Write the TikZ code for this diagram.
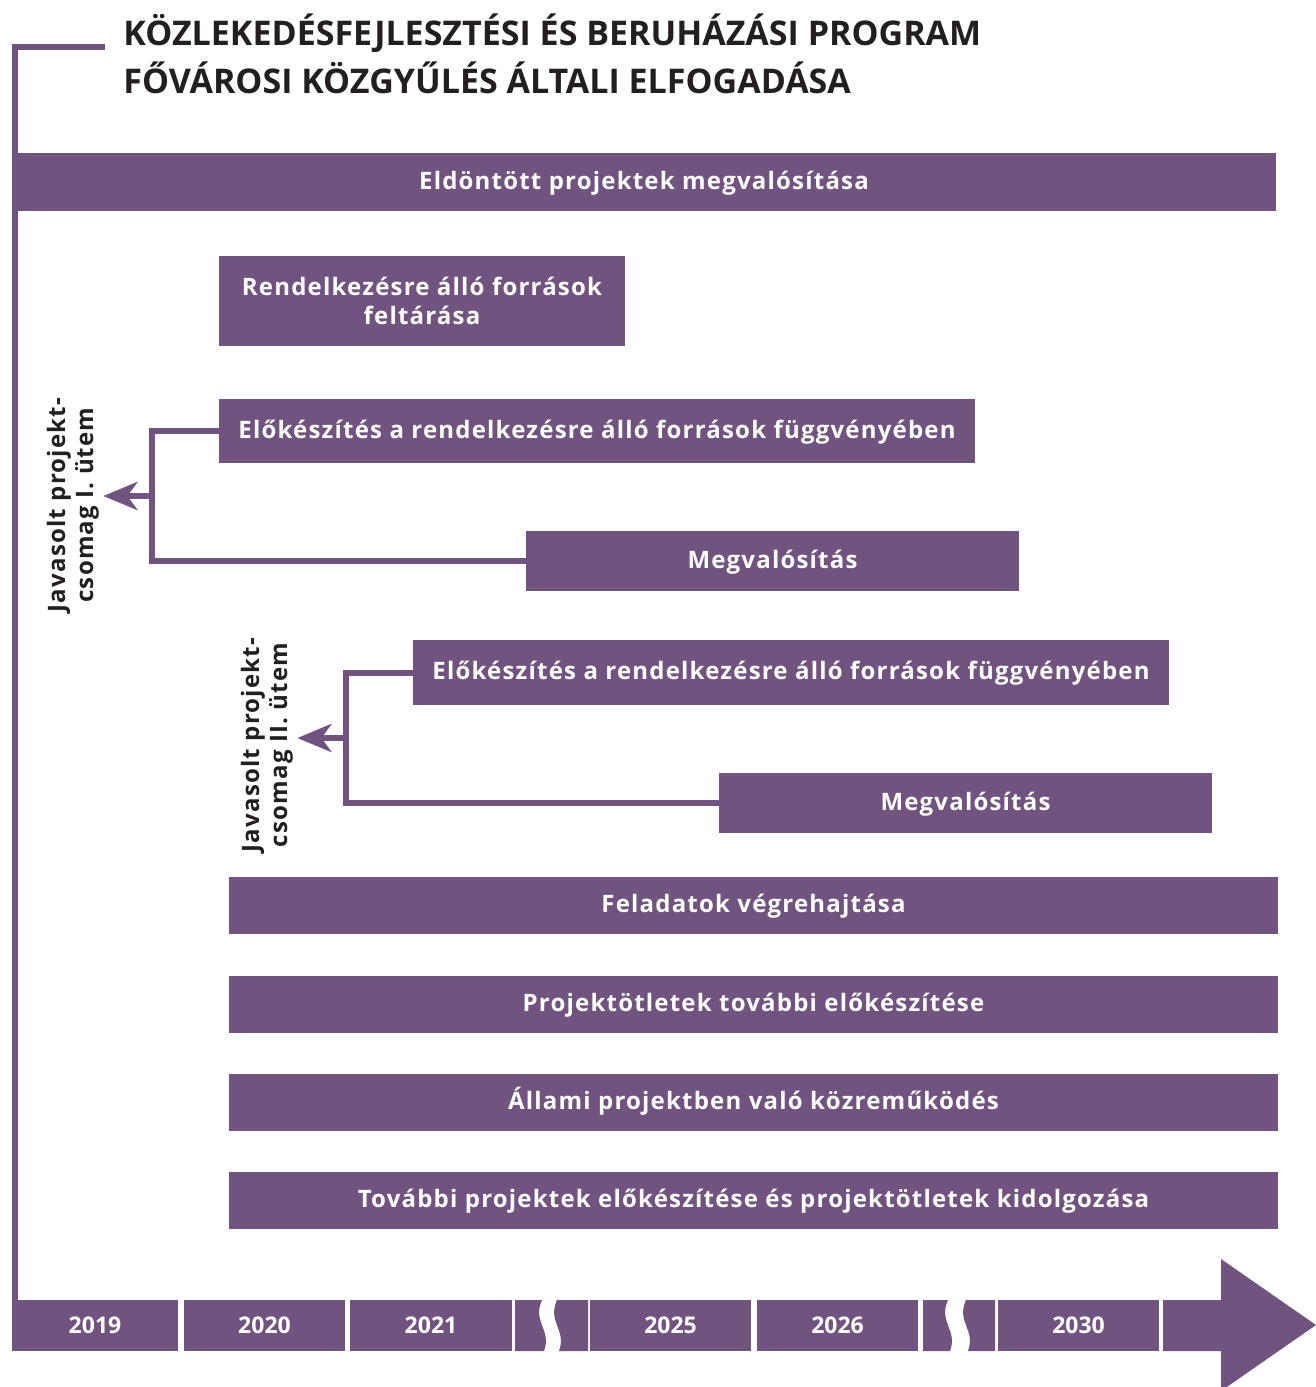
\documentclass[tikz,border=0pt]{standalone}
\usepackage{fontspec}
\setmainfont{Open Sans}
\newfontfamily\boxfont[LetterSpace=5]{Open Sans}
\usepackage{tikz}
\usetikzlibrary{arrows.meta,positioning,calc}
\definecolor{plum}{HTML}{71537F}
\definecolor{ink}{HTML}{231F20}

\begin{document}
\begin{tikzpicture}[x=0.5pt,y=-0.5pt,
  stripetwo/.style={fill=plum,text=white,font=\boxfont\fontsize{12}{14.5}\selectfont\bfseries,inner sep=0pt,align=center},
  stripe/.style={stripetwo,text height=0.98em,text depth=0.26em},
  year/.style={fill=plum,text=white,font=\fontsize{11.5}{13}\selectfont\bfseries,inner sep=0pt,minimum width=80.5pt,minimum height=25.5pt},
  conn/.style={plum,line width=3pt},
  phase/.style={rotate=90,text=ink,font=\boxfont\fontsize{12}{14}\selectfont\bfseries,align=center,inner sep=0pt}]
\useasboundingbox (0,0) rectangle (1316,1387);
% title and main axis
\node[anchor=north west,align=left,text=ink,inner sep=0pt,font=\fontsize{17}{24}\selectfont\bfseries] (title) at (123,13) {KÖZLEKEDÉSFEJLESZTÉSI ÉS BERUHÁZÁSI PROGRAM\\FŐVÁROSI KÖZGYŰLÉS ÁLTALI ELFOGADÁSA};
\coordinate (corner) at (15,47); \coordinate (base) at (15,1351);
\draw[conn] (105,47) -- (corner) -- (base);
% tasks
\node[stripe,minimum width=632pt,minimum height=29pt] (done) at (644,182) {Eldöntött projektek megvalósítása};
\node[stripetwo,minimum width=203pt,minimum height=45pt] (src) at (422,301) {Rendelkezésre álló források\\feltárása};
\node[stripe,minimum width=378pt,minimum height=32pt] (pre1) at (597,431) {Előkészítés a rendelkezésre álló források függvényében};
\node[stripe,minimum width=246.5pt,minimum height=30pt] (impl1) at (772.5,561) {Megvalósítás};
\node[stripe,minimum width=378pt,minimum height=32.5pt] (pre2) at (791,672.5) {Előkészítés a rendelkezésre álló források függvényében};
\node[stripe,minimum width=246.5pt,minimum height=30pt] (impl2) at (965.5,803) {Megvalósítás};
\node[stripe,minimum width=524.5pt,minimum height=28.5pt] (tasks) at (753.5,905.5) {Feladatok végrehajtása};
\node[stripe,minimum width=524.5pt,minimum height=28.5pt] (ideas) at (753.5,1004.5) {Projektötletek további előkészítése};
\node[stripe,minimum width=524.5pt,minimum height=28.5pt] (state) at (753.5,1102.5) {Állami projektben való közreműködés};
\node[stripe,minimum width=524.5pt,minimum height=28.5pt] (more) at (753.5,1200.5) {További projektek előkészítése és projektötletek kidolgozása};
% project packages
\node[phase] (ph1) at (73,505) {Javasolt projekt-\\csomag I. ütem};
\node[phase] (ph2) at (267,745) {Javasolt projekt-\\csomag II. ütem};
\coordinate (fork1) at (152,496); \coordinate (fork2) at (346,738);
\draw[conn] (pre1.west) -- (pre1.west -| fork1) |- (impl1.west);
\draw[conn] (pre2.west) -- (pre2.west -| fork2) |- (impl2.west);
\draw[conn,-{Stealth[length=17pt,width=14pt,inset=5pt]}] (fork1) -- ([xshift=2pt]fork1 -| ph1.south);
\draw[conn,-{Stealth[length=17pt,width=14pt,inset=5pt]}] (fork2) -- ([xshift=2pt]fork2 -| ph2.south);
% timeline
\node[year,minimum width=83pt] (y2019) at (95,1325.5) {2019};
\node[year] (y2020) at (264.5,1325.5) {2020};
\node[year,minimum width=81pt] (y2021) at (431,1325.5) {2021};
\node[year] (y2025) at (670.5,1325.5) {2025};
\node[year] (y2026) at (837.5,1325.5) {2026};
\node[year] (y2030) at (1078.5,1325.5) {2030};
\fill[plum] (515,1300) -- (542,1300) .. controls (532,1322) and (552,1330) .. (544,1351) -- (515,1351) -- cycle;
\fill[plum] (557,1300) .. controls (547,1322) and (567,1330) .. (559,1351) -- (588,1351) -- (588,1300) -- cycle;
\fill[plum] (923,1300) -- (948,1300) .. controls (938,1322) and (958,1330) .. (950,1351) -- (923,1351) -- cycle;
\fill[plum] (966,1300) .. controls (956,1322) and (976,1330) .. (968,1351) -- (995,1351) -- (995,1300) -- cycle;
\fill[plum] (1163,1300) -- (1221,1300) -- (1221,1259) -- (1316,1325) -- (1221,1391) -- (1221,1351) -- (1163,1351) -- cycle;
\end{tikzpicture}
\end{document}
